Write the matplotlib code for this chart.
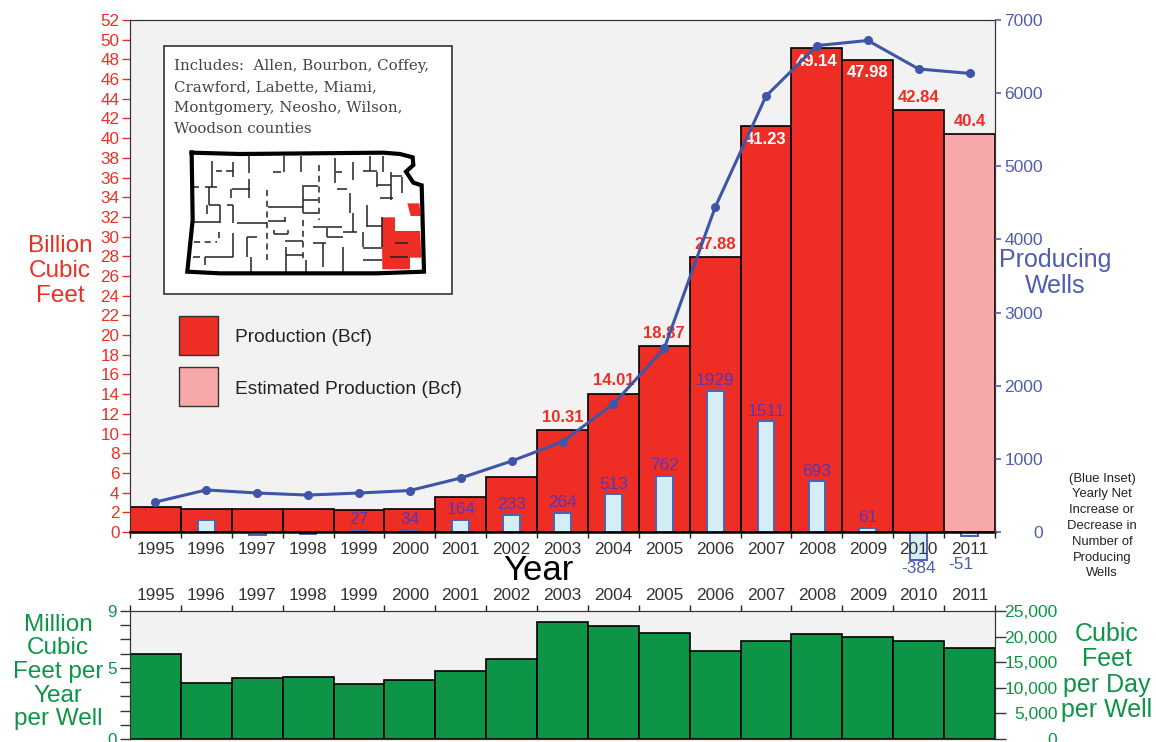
import numpy as np
import matplotlib
matplotlib.use('Agg')
import matplotlib.pyplot as plt
from matplotlib.patches import Rectangle, Polygon

plt.rcParams['font.family'] = ['Liberation Sans', 'DejaVu Sans']

years = list(range(1995, 2012))
production = [2.5, 2.3, 2.3, 2.3, 2.2, 2.3, 3.6, 5.6, 10.31, 14.01, 18.87, 27.88,
              41.23, 49.14, 47.98, 42.84, 40.4]
wells = [410, 575, 533, 505, 533, 567, 738, 970, 1234, 1750, 2510, 4440,
         5960, 6650, 6720, 6330, 6270]
net_change = [0, 165, -42, -28, 27, 34, 164, 233, 264, 513, 762, 1929, 1511, 693, 61, -384, -51]
per_well = [5.96, 3.96, 4.29, 4.38, 3.89, 4.12, 4.78, 5.6, 8.2, 7.95, 7.45, 6.2,
            6.9, 7.4, 7.17, 6.9, 6.4]

# which net change numbers get printed, the reference skips the small ones
net_labels = {1999: '27', 2000: '34', 2001: '164', 2002: '233', 2003: '264', 2004: '513',
              2005: '762', 2006: '1929', 2007: '1511', 2008: '693', 2009: '61'}
# production labels: red above the bar or white inside it
red_labels = {2003: '10.31', 2004: '14.01', 2005: '18.87', 2006: '27.88', 2010: '42.84', 2011: '40.4'}
white_labels = {2007: '41.23', 2008: '49.14', 2009: '47.98'}

counties_text = ['Includes:  Allen, Bourbon, Coffey,', 'Crawford, Labette, Miami,',
                 'Montgomery, Neosho, Wilson,', 'Woodson counties']

# Kansas sketch, traced in pixels of a 3x crop of the picture
map_outline = [(125, 368), (270, 372), (700, 368), (750, 372), (788, 382), (790, 405), (768, 425),
               (790, 458), (815, 466), (822, 725), (680, 730), (210, 730), (112, 725), (128, 570), (125, 368)]
map_red_1 = [(695, 562), (735, 562), (735, 603), (810, 603), (815, 683), (780, 683), (780, 718), (697, 718)]
map_red_2 = [(772, 520), (808, 520), (812, 558), (782, 558)]
map_lines = [(187, 392, 187, 470), (248, 395, 248, 440), (298, 378, 298, 428), (403, 378, 403, 425),
             (452, 378, 452, 425), (556, 385, 556, 460), (610, 395, 610, 450), (660, 378, 660, 422),
             (700, 378, 700, 425), (680, 425, 680, 470), (722, 425, 722, 510), (757, 440, 757, 490),
             (298, 448, 298, 505), (242, 478, 242, 505), (178, 472, 178, 525), (170, 525, 170, 552),
             (210, 525, 210, 578), (248, 525, 248, 578), (458, 470, 458, 550), (405, 560, 405, 575),
             (610, 550, 610, 605), (650, 525, 650, 590), (640, 605, 640, 650), (600, 490, 600, 550),
             (250, 610, 250, 680), (290, 620, 290, 680), (303, 680, 303, 725), (407, 650, 407, 725),
             (468, 690, 468, 725), (520, 640, 520, 710), (580, 650, 580, 725), (695, 560, 695, 650),
             (165, 680, 165, 705), (372, 600, 372, 612), (415, 600, 415, 612), (530, 595, 530, 620),
             (208, 605, 208, 625), (198, 422, 215, 422), (228, 422, 248, 422), (368, 427, 392, 427),
             (130, 472, 148, 472), (165, 472, 200, 472), (245, 478, 300, 478), (455, 467, 505, 467),
             (458, 510, 505, 510), (560, 478, 590, 478), (558, 425, 575, 425), (640, 422, 680, 422),
             (680, 465, 722, 465), (722, 437, 757, 437), (690, 505, 730, 505), (130, 577, 210, 577),
             (178, 525, 210, 525), (232, 525, 250, 525), (262, 580, 352, 580), (355, 572, 405, 572),
             (355, 530, 458, 530), (458, 550, 505, 550), (490, 592, 575, 592), (530, 622, 578, 622),
             (580, 605, 620, 605), (650, 587, 695, 587), (372, 612, 415, 612), (405, 633, 458, 633),
             (407, 675, 458, 675), (290, 620, 322, 620), (130, 680, 150, 680), (165, 680, 250, 680),
             (490, 640, 528, 640), (640, 690, 695, 690), (640, 655, 695, 655), (735, 640, 775, 640),
             (720, 680, 775, 680)]
map_dashed = [(507, 405, 507, 570), (352, 480, 352, 690), (458, 570, 458, 690), (132, 637, 200, 637)]

RED = '#ee2e24'
PINK = '#f7a9a9'
GREEN = '#0e9447'
LINE_BLUE = '#3f55a8'
TICK_BLUE = '#4f5db0'
PURPLE = '#5a35b5'
W, H = 1156, 742


def axes_px(left, top, right, bottom):
    return [left / W, 1 - bottom / H, (right - left) / W, (bottom - top) / H]


def crop(x, y):
    return 150 + x / 3, 30 + y / 3


fig = plt.figure(figsize=(W / 100, H / 100), dpi=100, facecolor='white')
x = np.arange(len(years))
edges = np.arange(len(years) + 1) - 0.5

# main chart
ax = fig.add_axes(axes_px(130, 20, 995, 532), facecolor='#f2f2f2')
colors = [RED] * 16 + [PINK]
ax.bar(x, production, width=1, color=colors, edgecolor='black', linewidth=1.2)
ax.set_xlim(-0.5, 16.5)
ax.set_ylim(0, 52)
ax.set_yticks(range(0, 53, 2))
ax.tick_params(axis='y', colors=RED, labelsize=12.3, length=6, width=1, pad=1.5)
for yr, s in red_labels.items():
    i = years.index(yr)
    ax.annotate(s, (i, production[i]), xytext=(0, 4), textcoords='offset points', ha='center', va='bottom',
                color=RED, fontsize=12, fontweight='bold')
for yr, s in white_labels.items():
    i = years.index(yr)
    ax.annotate(s, (i, production[i]), xytext=(0, -4), textcoords='offset points', ha='center', va='top',
                color='white', fontsize=12, fontweight='bold', zorder=6)

ax2 = ax.twinx()
ax2.set_ylim(0, 7000)
ax2.set_yticks(range(0, 7001, 1000))
ax2.tick_params(axis='y', colors=TICK_BLUE, labelsize=12.5, length=4.5, width=1.2, pad=30)
for lab in ax2.get_yticklabels():
    lab.set_ha('right')
ax2.bar(x[1:], net_change[1:], width=0.33, color='#d5edf4', edgecolor='#4a62b8', linewidth=1.4, clip_on=False, zorder=2)
ax2.plot(x, wells, color=LINE_BLUE, linewidth=2.2, marker='o', markersize=5.5, zorder=4)
for yr, s in net_labels.items():
    i = years.index(yr)
    ax2.annotate(s, (i, net_change[i]), xytext=(0, 2), textcoords='offset points', ha='center', va='bottom',
                 color=PURPLE, fontsize=12.4, zorder=5)
ax2.annotate('-384', (15, -384), xytext=(0, -1), textcoords='offset points', ha='center', va='top',
             color=TICK_BLUE, fontsize=12.4, annotation_clip=False)
ax2.annotate('-51', (16, -51), xytext=(-6, -15), textcoords='offset points', ha='center', va='top',
             color=TICK_BLUE, fontsize=12.4, annotation_clip=False)

# year axis sits on ax2 so that the text stays on top of the inset bars
ax2.xaxis.set_visible(True)
ax2.set_axisbelow(False)
ax2.set_xticks(edges)
ax2.set_xticklabels([])
ax2.set_xticks(x, [str(y) for y in years], minor=True)
ax2.tick_params(axis='x', which='major', length=4.5, width=1, color='#222222', bottom=True, labelbottom=False)
ax2.tick_params(axis='x', which='minor', length=0, labelsize=12.4, pad=7, labelcolor='#333333', bottom=True, labelbottom=True)
ax.tick_params(axis='x', which='both', bottom=False, labelbottom=False)
for s in ['top', 'right', 'left']:
    ax.spines[s].set_color('#333333')
    ax2.spines[s].set_color('#333333')
ax2.spines['bottom'].set_linewidth(1.8)

# lower chart
low = fig.add_axes(axes_px(130, 611, 995, 739), facecolor='#f2f2f2')
low.bar(x, per_well, width=1, color=GREEN, edgecolor='black', linewidth=1.2)
low.set_xlim(-0.5, 16.5)
low.set_ylim(0, 9)
low.set_yticks(range(0, 10))
low.set_yticklabels(['0', '', '', '', '', '5', '', '', '', '9'])
low.tick_params(axis='y', labelsize=12.3, labelcolor=GREEN, length=7, width=1, color='#333333', pad=2.5)
low.xaxis.tick_top()
low.set_xticks(edges)
low.set_xticklabels([])
low.set_xticks(x, [str(y) for y in years], minor=True)
low.tick_params(axis='x', which='major', length=4, width=1, color='#222222')
low.tick_params(axis='x', which='minor', length=0, labelsize=12.4, pad=6, labelcolor='#333333')

low2 = low.twinx()
low2.set_ylim(0, 25000)
low2.set_yticks(range(0, 25001, 5000))
low2.set_yticklabels(['0', '5,000', '10,000', '15,000', '20,000', '25,000'])
low2.tick_params(axis='y', labelsize=12.6, labelcolor=GREEN, length=8, width=1, color='#333333', pad=37)
for lab in low2.get_yticklabels():
    lab.set_ha('right')
for s in low.spines.values():
    s.set_color('#333333')
for s in low2.spines.values():
    s.set_color('#333333')

# everything else is placed in picture pixels on a clear overlay
ov = fig.add_axes([0, 0, 1, 1], facecolor='none', zorder=10)
ov.set_xlim(0, W)
ov.set_ylim(H, 0)
ov.axis('off')

ov.add_patch(Rectangle((164, 46), 288, 248, facecolor='white', edgecolor='#333333', linewidth=1.2))
for k, line in enumerate(counties_text):
    ov.text(174, 66 + 21 * k, line, family=['DejaVu Serif'], fontsize=10.8,
            color='#444444', va='center', ha='left')
ov.add_patch(Polygon([crop(*p) for p in map_red_1], facecolor=RED, edgecolor='none'))
ov.add_patch(Polygon([crop(*p) for p in map_red_2], facecolor=RED, edgecolor='none'))
for x1, y1, x2, y2 in map_lines:
    a, b = crop(x1, y1), crop(x2, y2)
    ov.plot([a[0], b[0]], [a[1], b[1]], color='#222222', linewidth=1.1, solid_capstyle='butt')
for x1, y1, x2, y2 in map_dashed:
    a, b = crop(x1, y1), crop(x2, y2)
    ov.plot([a[0], b[0]], [a[1], b[1]], color='#222222', linewidth=1.1, linestyle=(0, (4, 3)))
ov.plot(*zip(*[crop(*p) for p in map_outline]), color='black', linewidth=3, solid_joinstyle='miter')

ov.add_patch(Rectangle((179, 316), 39, 39, facecolor=RED, edgecolor='#333333', linewidth=1))
ov.add_patch(Rectangle((179, 367), 39, 39, facecolor=PINK, edgecolor='#333333', linewidth=1))
ov.text(235, 338, 'Production (Bcf)', fontsize=13.8, color='#222222', va='center')
ov.text(235, 390, 'Estimated Production (Bcf)', fontsize=13.8, color='#222222', va='center')

ov.text(538, 571, 'Year', fontsize=25, color='black', ha='center', va='center')
ov.text(60, 271, 'Billion\nCubic\nFeet', fontsize=17.5, color=RED, ha='center', va='center', linespacing=1.17)
ov.text(1055, 273, 'Producing\nWells', fontsize=18, color=TICK_BLUE, ha='center', va='center', linespacing=1.13)
ov.text(1102, 526, '(Blue Inset)\nYearly Net\nIncrease or\nDecrease in\nNumber of\nProducing\nWells',
        fontsize=9.4, color='#222222', ha='center', va='center', linespacing=1.42)
ov.text(58, 672, 'Million\nCubic\nFeet per\nYear\nper Well', fontsize=17.5, color=GREEN, ha='center', va='center', linespacing=1.1)
ov.text(1107, 672, 'Cubic\nFeet\nper Day\nper Well', fontsize=18, color=GREEN, ha='center', va='center', linespacing=1.08)

fig.savefig('out.png', dpi=100)
